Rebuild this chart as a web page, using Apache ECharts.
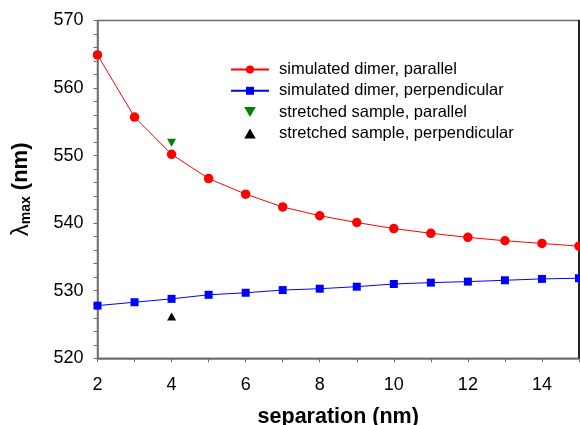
<!DOCTYPE html>
<html><head><meta charset="utf-8">
<script src="https://cdn.jsdelivr.net/npm/echarts@6/dist/echarts.min.js"></script>
<style>html,body{margin:0;padding:0;background:#fff}#c{width:580px;height:425px}</style>
</head><body><div id="c"></div>
<script>
const separation = [2,3,4,5,6,7,8,9,10,11,12,13,14,15];
const parallelSim = [564.9,555.7,550.2,546.6,544.3,542.4,541.1,540.1,539.2,538.5,537.9,537.4,537.0,536.6];
const perpSim = [527.8,528.3,528.8,529.4,529.7,530.1,530.3,530.6,531.0,531.2,531.35,531.55,531.75,531.85];
const stretchedParallel = [[4,551.9]];
const stretchedPerp = [[4,526.2]];
const seriesNames = ['simulated dimer, parallel','simulated dimer, perpendicular','stretched sample, parallel','stretched sample, perpendicular'];

const axisGrey = '#6e6e6e';
const font = 'Liberation Sans, Arial, sans-serif';
const downTri = 'path://M0,0 L10,0 L5,8.7 Z';
const upTri = 'path://M5,0 L10,8.7 L0,8.7 Z';

const chart = echarts.init(document.getElementById('c'), null, {renderer:'canvas'});
chart.setOption({
  animation:false,
  textStyle:{fontFamily:font},
  grid:{left:97.5,right:1,top:20.5,bottom:66.7,show:true,borderColor:axisGrey,borderWidth:1.5,
        containLabel:false, outerBoundsMode:'none'},
  legend:{
    orient:'vertical', left:225, top:56, itemWidth:38, itemHeight:10, itemGap:4.3,
    textStyle:{fontSize:16.5,color:'#000',fontFamily:font,padding:[0,0,0,5]},
    data:[
      {name:seriesNames[0]},
      {name:seriesNames[1]},
      {name:seriesNames[2], icon:downTri, itemStyle:{color:'#008000'}},
      {name:seriesNames[3], icon:upTri, itemStyle:{color:'#000'}}
    ]
  },
  xAxis:[{
    type:'value', min:2, max:15, interval:1,
    axisLine:{lineStyle:{color:axisGrey,width:1.5}},
    axisTick:{show:true,length:4,inside:false,lineStyle:{color:axisGrey,width:1}},
    axisLabel:{fontSize:18,color:'#000',margin:18,formatter:v=> (v%2===0? String(v):'')},
    splitLine:{show:false},
    name:'separation (nm)', nameLocation:'middle', nameGap:48,
    nameTextStyle:{fontSize:21.5,fontWeight:'bold',color:'#000',fontFamily:font}
  }],
  yAxis:[{
    type:'value', min:520, max:570, interval:10,
    axisLine:{show:true,lineStyle:{color:axisGrey,width:1.5}},
    axisTick:{show:true,length:4,lineStyle:{color:axisGrey,width:1}},
    minorTick:{show:true,splitNumber:5,length:4,lineStyle:{color:axisGrey,width:1}},
    axisLabel:{fontSize:18,color:'#000',margin:14},
    splitLine:{show:false},
    name:'{l|λ}{s|max}{n| (nm)}', nameLocation:'middle', nameGap:64,
    nameTextStyle:{color:'#000',rich:{
      l:{fontSize:24,fontFamily:font,color:'#000'},
      s:{fontSize:14,fontWeight:'bold',fontFamily:font,color:'#000',verticalAlign:'bottom',padding:[11,0,0,0]},
      n:{fontSize:22,fontWeight:'bold',fontFamily:font,color:'#000'}
    }}
  },{
    type:'value', min:520, max:570, position:'right',
    axisLine:{show:true,lineStyle:{color:'#000',width:1.5}},
    axisTick:{show:false}, axisLabel:{show:false}, splitLine:{show:false}
  }],
  series:[
    {name:seriesNames[0], type:'line', data:separation.map((x,i)=>[x,parallelSim[i]]),
     symbol:'circle', symbolSize:9.5, showAllSymbol:true, clip:false,
     lineStyle:{color:'#ff0000',width:1}, itemStyle:{color:'#ff0000'}},
    {name:seriesNames[1], type:'line', data:separation.map((x,i)=>[x,perpSim[i]]),
     symbol:'rect', symbolSize:8, showAllSymbol:true, clip:false,
     lineStyle:{color:'#0000ff',width:1}, itemStyle:{color:'#0000ff'}},
    {name:seriesNames[2], type:'scatter', data:stretchedParallel,
     symbol:downTri, symbolSize:[9,8], itemStyle:{color:'#008000',opacity:1}},
    {name:seriesNames[3], type:'scatter', data:stretchedPerp,
     symbol:upTri, symbolSize:[9,8], itemStyle:{color:'#000',opacity:1}}
  ]
});
</script></body></html>
